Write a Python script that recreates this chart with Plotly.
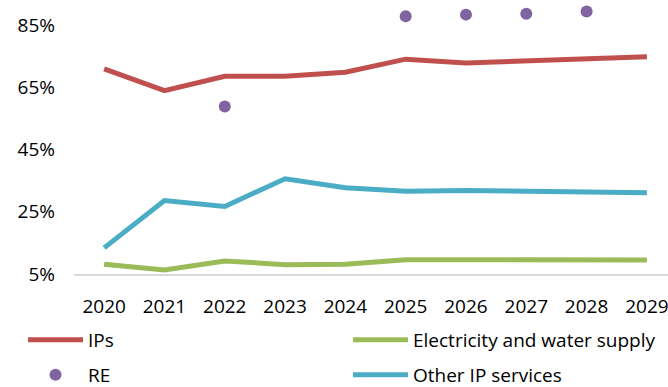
import plotly.graph_objects as go

# Share of activity by sector, 2020-2029
years = [2020, 2021, 2022, 2023, 2024, 2025, 2026, 2027, 2028, 2029]
ips = [70.9, 63.9, 68.5, 68.5, 69.8, 74.0, 72.8, 73.5, 74.2, 74.8]
electricity_water = [8.1, 6.3, 9.2, 8.0, 8.1, 9.6, 9.6, 9.5, 9.5, 9.5]
other_ip_services = [13.4, 28.6, 26.7, 35.6, 32.7, 31.6, 31.8, 31.7, 31.5, 31.1]
re_years = [2022, 2025, 2026, 2027, 2028]
re_values = [58.8, 87.8, 88.3, 88.6, 89.3]

y_ticks = [5, 25, 45, 65, 85]
y_tick_labels = ["5%", "25%", "45%", "65%", "85%"]

RED = "#C0504D"
GREEN = "#9BBB59"
BLUE = "#4BACC6"
PURPLE = "#8064A2"
FONT = "Open Sans"
LINE_W = 5

fig = go.Figure()
fig.add_trace(go.Scatter(x=years, y=ips, mode="lines", name="IPs",
                         line=dict(color=RED, width=LINE_W), legend="legend"))
fig.add_trace(go.Scatter(x=re_years, y=re_values, mode="markers", name="RE",
                         marker=dict(color=PURPLE, size=12), legend="legend2"))
fig.add_trace(go.Scatter(x=years, y=electricity_water, mode="lines",
                         name="Electricity and water supply",
                         line=dict(color=GREEN, width=LINE_W), legend="legend3"))
fig.add_trace(go.Scatter(x=years, y=other_ip_services, mode="lines",
                         name="Other IP services",
                         line=dict(color=BLUE, width=LINE_W), legend="legend4"))

def legend_box(x_px, y_px):
    return dict(
        xref="container", yref="container",
        x=x_px / 668, y=1 - y_px / 387,
        xanchor="left", yanchor="middle",
        itemwidth=55, borderwidth=0, bgcolor="rgba(0,0,0,0)",
        maxheight=80,
        font=dict(family=FONT, size=19, color="#000000"),
    )

fig.update_layout(
    width=668, height=387,
    margin=dict(l=74, r=0, t=0, b=113, autoexpand=False),
    paper_bgcolor="white", plot_bgcolor="white",
    font=dict(family=FONT, size=19, color="#000000"),
    showlegend=True,
    legend=legend_box(23, 340),
    legend2=legend_box(23, 375),
    legend3=legend_box(348, 340),
    legend4=legend_box(348, 375),
    xaxis=dict(
        range=[2019.5, 2029.35],
        tickmode="array", tickvals=years, ticktext=[str(y) for y in years],
        tickangle=0, ticklabeloverflow="allow",
        showgrid=False, zeroline=False,
        showline=True, linecolor="#D9D9D9", linewidth=1.5,
        ticks="", ticklabelstandoff=14,
        tickfont=dict(family=FONT, size=19, color="#000000"),
    ),
    yaxis=dict(
        range=[5, 93.0],
        tickmode="array", tickvals=y_ticks, ticktext=y_tick_labels,
        showgrid=False, zeroline=False, showline=False,
        ticks="", ticklabelstandoff=18,
        tickfont=dict(family=FONT, size=19, color="#000000"),
    ),
)

fig.write_html("out.html")
